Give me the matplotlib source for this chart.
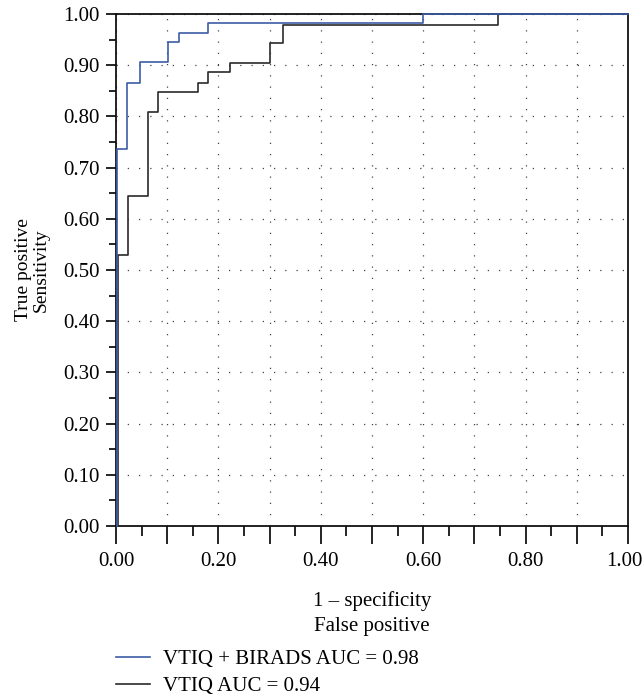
import matplotlib
matplotlib.use('Agg')
import matplotlib.pyplot as plt
from matplotlib.ticker import MultipleLocator, FormatStrFormatter
from matplotlib.transforms import ScaledTranslation

# ============================================================
# DATA
# ============================================================

combo_fpr = [0.002, 0.002, 0.021, 0.046, 0.102, 0.124, 0.179, 0.600, 1.000]
combo_tpr = [0.000, 0.736, 0.866, 0.907, 0.945, 0.963, 0.982, 1.000, 1.000]

vtiq_fpr = [0.003, 0.003, 0.023, 0.062, 0.083, 0.161, 0.180, 0.223, 0.301, 0.326, 0.747, 1.000]
vtiq_tpr = [0.000, 0.530, 0.644, 0.809, 0.847, 0.865, 0.887, 0.905, 0.943, 0.979, 1.000, 1.000]

labels = ['VTIQ + BIRADS AUC = 0.98', 'VTIQ AUC = 0.94']

# ============================================================
# PLOT SETTINGS
# ============================================================

BLUE = '#3d5ba6'
BLACK = '#2a2a2a'
LW = 1.2

plt.rcParams.update({
    'font.family': ['Liberation Serif', 'DejaVu Serif'],
    'font.size': 15,
})

fig = plt.figure(figsize=(6.43, 7.0), dpi=100)
ax = fig.add_axes([0.1804, 0.2486, 0.7963, 0.7314])

ax.plot(vtiq_fpr, vtiq_tpr, drawstyle='steps-post', color=BLACK,
        linewidth=LW, clip_on=False, label=labels[1], zorder=3)
ax.plot(combo_fpr, combo_tpr, drawstyle='steps-post', color=BLUE,
        linewidth=LW, clip_on=False, label=labels[0], zorder=4)

ax.set_xlim(0, 1)
ax.set_ylim(0, 1)

ax.xaxis.set_minor_locator(MultipleLocator(0.05))
ax.yaxis.set_major_locator(MultipleLocator(0.1))
ax.yaxis.set_minor_locator(MultipleLocator(0.05))
ax.yaxis.set_major_formatter(FormatStrFormatter('%.2f'))
xt = [i / 10 for i in range(11)]
ax.set_xticks(xt)
ax.set_xticklabels([f'{v:.2f}' if i % 2 == 0 else '' for i, v in enumerate(xt)])

ax.tick_params(axis='both', which='major', labelsize=15)
ax.tick_params(axis='x', which='major', direction='out', length=13, width=1.2, pad=6)
ax.tick_params(axis='x', which='minor', direction='out', length=7, width=1.2)
ax.tick_params(axis='y', which='major', direction='out', length=7.5, width=1.2, pad=4)
ax.tick_params(axis='y', which='minor', direction='out', length=5, width=1.2)

# nudge the last x label so it stays inside the figure
last = ax.get_xticklabels()[-1]
last.set_transform(last.get_transform() + ScaledTranslation(-4 / 100, 0, fig.dpi_scale_trans))

for s in ax.spines.values():
    s.set_linewidth(1.3)
    s.set_color('#111111')

ax.grid(True, which='major', color='#444444', linestyle=(0, (1, 8)), linewidth=0.9)

ax.set_xlabel('1 – specificity\nFalse positive', fontsize=15, labelpad=14, linespacing=1.42)
ax.set_ylabel('True positive\nSensitivity', fontsize=14, labelpad=10, linespacing=1.03)

handles, lbls = ax.get_legend_handles_labels()
fig.legend(handles[::-1], lbls[::-1], loc='upper left', bbox_to_anchor=(0.181, 0.072),
           frameon=False, handlelength=1.6, handletextpad=0.62, labelspacing=0.36,
           borderaxespad=0, borderpad=0, fontsize=15)

fig.savefig('out.png', dpi=100)
